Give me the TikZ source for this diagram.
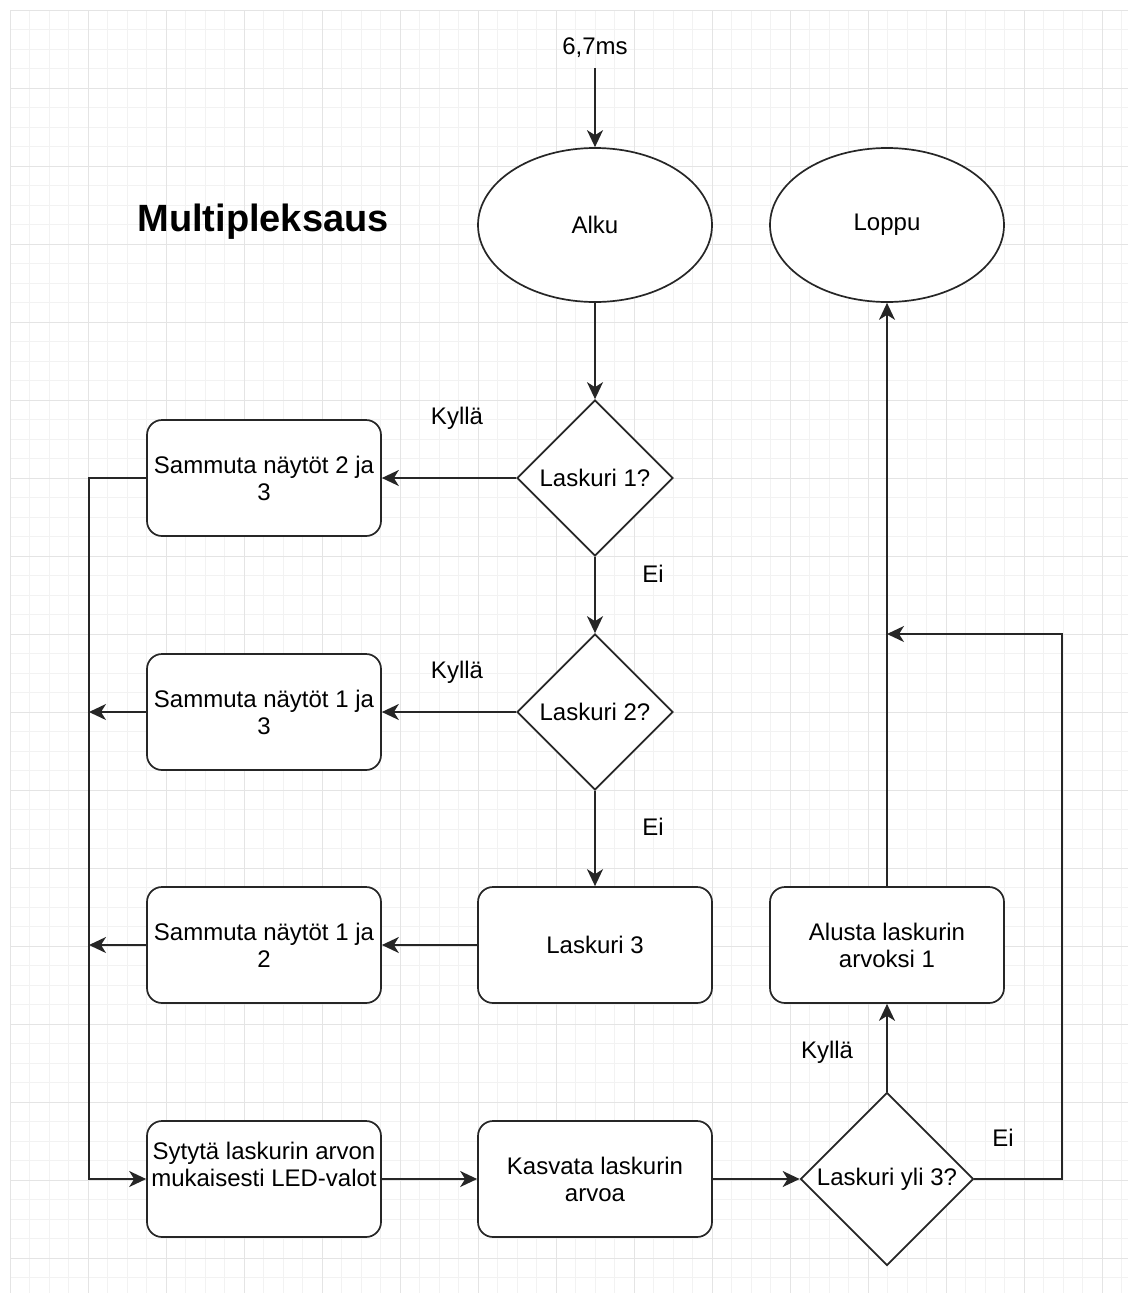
\documentclass[tikz,border=0pt]{standalone}
\usepackage{fontspec}
\setmainfont{Liberation Sans}
\usetikzlibrary{shapes.geometric,arrows.meta}
\definecolor{gminor}{HTML}{F2F2F2}
\definecolor{gmajor}{HTML}{E4E4E4}
\begin{document}
\begin{tikzpicture}[x=1pt,y=-1pt,
  every node/.style={font=\fontsize{24}{27}\selectfont, align=center},
  ln/.style={line width=1.7pt, draw=black!85},
  arr/.style={ln, -{Stealth[length=17pt,width=16pt,inset=5pt]}},
  box/.style={ln, rounded corners=15pt, minimum width=234pt, minimum height=116pt, inner sep=0pt, fill=white},
  dec/.style={ln, diamond, aspect=1, minimum width=156pt, minimum height=156pt, inner sep=0pt, fill=white},
  term/.style={ln, ellipse, minimum width=234pt, minimum height=154pt, inner sep=0pt, fill=white},
  lbl/.style={inner sep=0pt}]
\useasboundingbox (0,0) rectangle (1128,1293);
\fill[white] (0,0) rectangle (1128,1293);
% grid
\foreach \i in {0,...,57} { \draw[gminor, line width=1pt] ({10+19.5*\i},10) -- ({10+19.5*\i},1293); }
\foreach \i in {0,...,65} { \draw[gminor, line width=1pt] (10,{10+19.5*\i}) -- (1128,{10+19.5*\i}); }
\foreach \i in {0,...,14} { \draw[gmajor, line width=1pt] ({10+78*\i},10) -- ({10+78*\i},1293); }
\foreach \i in {0,...,16} { \draw[gmajor, line width=1pt] (10,{10+78*\i}) -- (1128,{10+78*\i}); }

% title
\node[lbl, font=\fontsize{38}{44}\selectfont\bfseries] (title) at (263,222) {Multipleksaus};

% nodes
\node[lbl] (ms) at (595,48) {6,7ms};
\coordinate (msend) at (595,68);
\node[term] (alku) at (595,225) {Alku};
\node[term] (loppu) at (887,225) {Loppu};
\node[dec] (d1) at (595,478) {Laskuri 1?};
\node[box] (b1) at (264,478) {Sammuta näytöt 2 ja\\3};
\node[dec] (d2) at (595,712) {Laskuri 2?};
\node[box] (b2) at (264,712) {Sammuta näytöt 1 ja\\3};
\node[box] (l3) at (595,945) {Laskuri 3};
\node[box] (b3) at (264,945) {Sammuta näytöt 1 ja\\2};
\node[box] (b4) at (264,1179) {};
\node[lbl] (b4t) at (264,1164) {Sytytä laskurin arvon\\mukaisesti LED-valot};
\node[box] (b5) at (595,1179) {Kasvata laskurin\\arvoa};
\node[dec, minimum width=173pt, minimum height=173pt] (d3) at (887,1179) {Laskuri yli 3?};
\node[box] (al) at (887,945) {Alusta laskurin\\arvoksi 1};
\coordinate (busT) at (89,478);
\coordinate (eR) at (1062,634);

% labels
\node[lbl] (k1) at (457,418) {Kyllä};
\node[lbl] (e1) at (653,574) {Ei};
\node[lbl] (k2) at (457,672) {Kyllä};
\node[lbl] (e2) at (653,827) {Ei};
\node[lbl] (k3) at (827,1052) {Kyllä};
\node[lbl] (e3) at (1003,1138) {Ei};

% connectors
\draw[arr] (msend) -- (alku.north);
\draw[arr] (alku.south) -- (d1.north);
\draw[arr] (d1.west) -- (b1.east);
\draw[arr] (d1.south) -- (d2.north);
\draw[arr] (d2.west) -- (b2.east);
\draw[arr] (d2.south) -- (l3.north);
\draw[arr] (l3.west) -- (b3.east);
\draw[arr] (b1.west) -- (busT) |- (b4.west);
\draw[arr] (b2.west) -- (b2.west -| busT);
\draw[arr] (b3.west) -- (b3.west -| busT);
\draw[arr] (b4.east) -- (b5.west);
\draw[arr] (b5.east) -- (d3.west);
\draw[arr] (d3.north) -- (al.south);
\draw[arr] (al.north) -- (loppu.south);
\draw[arr] (d3.east) -| (eR) -- (eR -| al.north);
\end{tikzpicture}
\end{document}
